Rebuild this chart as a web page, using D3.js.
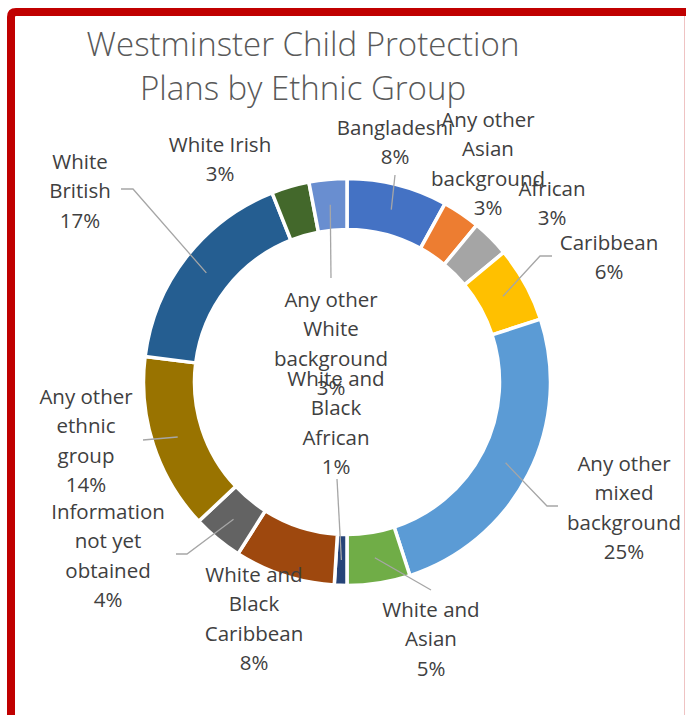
<!DOCTYPE html>
<html>
<head>
<meta charset="utf-8">
<script src="https://cdn.jsdelivr.net/npm/d3@7"></script>
<style>
  html, body { margin: 0; padding: 0; background: #ffffff; }
  svg { display: block; }
</style>
</head>
<body>
<svg id="chart" width="686" height="715"></svg>
<script>
// Westminster child protection plans, share by ethnic group (%)
const categories = [
  "Bangladeshi",
  "Any other Asian background",
  "African",
  "Caribbean",
  "Any other mixed background",
  "White and Asian",
  "White and Black African",
  "White and Black Caribbean",
  "Information not yet obtained",
  "Any other ethnic group",
  "White British",
  "White Irish",
  "Any other White background"
];
const shares = [8, 3, 3, 6, 25, 5, 1, 8, 4, 14, 17, 3, 3];
const colours = [
  "#4472C4", "#ED7D31", "#A5A5A5", "#FFC000", "#5B9BD5", "#70AD47",
  "#264478", "#9E480E", "#636363", "#997300", "#255E91", "#43682B", "#698ED0"
];
const titleLines = ["Westminster Child Protection", "Plans by Ethnic Group"];

// Manually placed data labels: centre x, first line centre y,
// words per wrapped line, and elbow points of the leader line.
const labelLayout = {
  "Bangladeshi":                  { x: 395, y: 128, words: [1],       leader: [[395, 175]] },
  "Any other Asian background":   { x: 488, y: 120, words: [2, 1, 1] },
  "African":                      { x: 552, y: 189, words: [1] },
  "Caribbean":                    { x: 609, y: 243, words: [1],       leader: [[552, 256], [540, 256]] },
  "Any other mixed background":   { x: 624, y: 464, words: [2, 1, 1], leader: [[558, 506], [547, 506]] },
  "White and Asian":              { x: 431, y: 610, words: [2, 1],    leader: [[431, 590]] },
  "White and Black African":      { x: 336, y: 379, words: [2, 1, 1], leader: [[337, 479]] },
  "White and Black Caribbean":    { x: 254, y: 575, words: [2, 1, 1] },
  "Information not yet obtained": { x: 108, y: 512, words: [1, 2, 1], leader: [[176, 554], [187, 554]] },
  "Any other ethnic group":       { x: 86,  y: 397, words: [2, 1, 1], leader: [[143, 440]] },
  "White British":                { x: 80,  y: 162, words: [1, 1],    leader: [[121, 189], [133, 189]] },
  "White Irish":                  { x: 220, y: 145, words: [2] },
  "Any other White background":   { x: 331, y: 300, words: [2, 1, 1], leader: [[331, 278]] }
};

const svg = d3.select("#chart");
const W = 686, H = 715;
const cx = 347, cy = 382;
const outerR = 203.5, innerR = 152.5;
const lineH = 29.4;
const labelFont = "'Open Sans', 'Noto Sans', sans-serif";

// chart frame
svg.append("path")
  .attr("d", `M11,${H + 10} L11,17 Q11,12 16,12 L${W + 10},12`)
  .attr("fill", "none")
  .attr("stroke", "#C00000")
  .attr("stroke-width", 8);
svg.append("line")
  .attr("x1", 684.5).attr("x2", 684.5)
  .attr("y1", 16).attr("y2", H)
  .attr("stroke", "#EFC3C3")
  .attr("stroke-width", 1);

// title
svg.append("text")
  .attr("text-anchor", "middle")
  .attr("font-family", labelFont)
  .attr("font-weight", 300)
  .attr("font-size", 33)
  .attr("fill", "#595959")
  .selectAll("tspan")
  .data(titleLines)
  .join("tspan")
  .attr("x", 303)
  .attr("y", (d, i) => 56 + i * 44)
  .text(d => d);

// doughnut
const pie = d3.pie().sort(null).value(d => d.value);
const arcs = pie(categories.map((c, i) => ({ name: c, value: shares[i], colour: colours[i] })));
const arc = d3.arc().innerRadius(innerR).outerRadius(outerR);
const midArc = d3.arc().innerRadius((innerR + outerR) / 2).outerRadius((innerR + outerR) / 2);

const g = svg.append("g").attr("transform", `translate(${cx},${cy})`);
g.selectAll("path.slice")
  .data(arcs)
  .join("path")
  .attr("class", "slice")
  .attr("d", arc)
  .attr("fill", d => d.data.colour)
  .attr("stroke", "#ffffff")
  .attr("stroke-width", 3.5)
  .attr("stroke-linejoin", "miter");

// leader lines from label to slice centre
const line = d3.line();
svg.append("g")
  .selectAll("path.leader")
  .data(arcs.filter(d => labelLayout[d.data.name].leader))
  .join("path")
  .attr("class", "leader")
  .attr("d", d => {
    const c = midArc.centroid(d);
    const pts = labelLayout[d.data.name].leader.concat([[cx + c[0], cy + c[1]]]);
    return line(pts);
  })
  .attr("fill", "none")
  .attr("stroke", "#A6A6A6")
  .attr("stroke-width", 1.3);

// data labels: wrapped category name plus percentage
const fmt = d3.format(".0%");
const labels = svg.append("g")
  .attr("font-family", labelFont)
  .attr("font-size", 20.5)
  .attr("fill", "#404040")
  .attr("text-anchor", "middle");

arcs.forEach(d => {
  const lay = labelLayout[d.data.name];
  const words = d.data.name.split(" ");
  const rows = [];
  let k = 0;
  lay.words.forEach(n => { rows.push(words.slice(k, k + n).join(" ")); k += n; });
  rows.push(fmt(d.data.value / d3.sum(shares)));
  const t = labels.append("text");
  t.selectAll("tspan")
    .data(rows)
    .join("tspan")
    .attr("x", lay.x)
    .attr("y", (r, i) => lay.y + 7 + i * lineH)
    .text(r => r);
});
</script>
</body>
</html>
